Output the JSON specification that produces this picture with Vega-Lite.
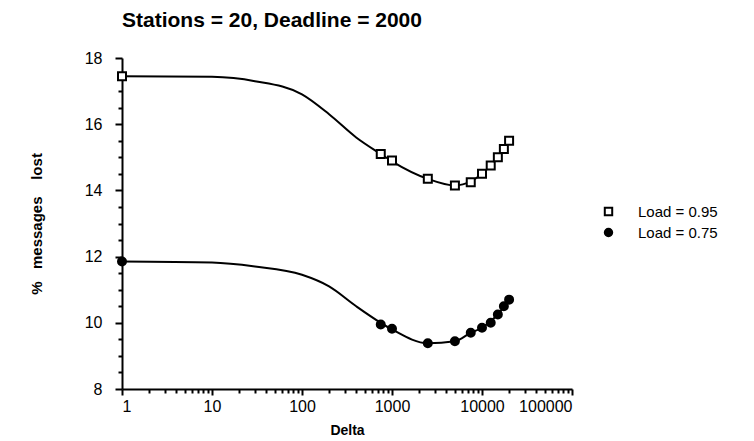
{
  "$schema": "https://vega.github.io/schema/vega-lite/v6.json",
  "width": 450,
  "height": 331,
  "autosize": "none",
  "padding": {"left": 122, "top": 58, "right": 182, "bottom": 52},
  "background": "white",
  "config": {
    "view": {"stroke": null},
    "font": "Liberation Sans",
    "axis": {
      "domainColor": "black", "domainWidth": 2, "tickColor": "black", "tickWidth": 2,
      "labelColor": "black", "labelFont": "Liberation Sans", "labelFontSize": 16,
      "titleColor": "black", "titleFont": "Liberation Sans", "titleFontSize": 15, "titleFontWeight": "bold",
      "grid": false
    },
    "legend": {
      "labelFontSize": 15, "labelColor": "black", "labelFont": "Liberation Sans",
      "symbolSize": 55, "symbolStrokeWidth": 2, "rowPadding": 4, "labelOffset": 22, "padding": 0
    }
  },
  "title": {
    "text": "Stations = 20, Deadline = 2000",
    "anchor": "start", "frame": "group", "fontSize": 21, "fontWeight": "bold",
    "font": "Liberation Sans", "color": "black", "offset": 19
  },
  "datasets": {
    "pts": [
      {"delta": 1, "lost": 17.45, "series": "Load = 0.95"},
      {"delta": 750, "lost": 15.1, "series": "Load = 0.95"},
      {"delta": 1000, "lost": 14.9, "series": "Load = 0.95"},
      {"delta": 2500, "lost": 14.35, "series": "Load = 0.95"},
      {"delta": 5000, "lost": 14.15, "series": "Load = 0.95"},
      {"delta": 7500, "lost": 14.25, "series": "Load = 0.95"},
      {"delta": 10000, "lost": 14.5, "series": "Load = 0.95"},
      {"delta": 12500, "lost": 14.75, "series": "Load = 0.95"},
      {"delta": 15000, "lost": 15.0, "series": "Load = 0.95"},
      {"delta": 17500, "lost": 15.25, "series": "Load = 0.95"},
      {"delta": 20000, "lost": 15.5, "series": "Load = 0.95"},
      {"delta": 1, "lost": 11.85, "series": "Load = 0.75"},
      {"delta": 750, "lost": 9.95, "series": "Load = 0.75"},
      {"delta": 1000, "lost": 9.82, "series": "Load = 0.75"},
      {"delta": 2500, "lost": 9.38, "series": "Load = 0.75"},
      {"delta": 5000, "lost": 9.44, "series": "Load = 0.75"},
      {"delta": 7500, "lost": 9.7, "series": "Load = 0.75"},
      {"delta": 10000, "lost": 9.85, "series": "Load = 0.75"},
      {"delta": 12500, "lost": 10.0, "series": "Load = 0.75"},
      {"delta": 15000, "lost": 10.25, "series": "Load = 0.75"},
      {"delta": 17500, "lost": 10.5, "series": "Load = 0.75"},
      {"delta": 20000, "lost": 10.7, "series": "Load = 0.75"}
    ],
    "curve": [
      {"delta": 1, "lost": 17.45, "series": "Load = 0.95"},
      {"delta": 10, "lost": 17.43, "series": "Load = 0.95"},
      {"delta": 30, "lost": 17.3, "series": "Load = 0.95"},
      {"delta": 100, "lost": 16.9, "series": "Load = 0.95"},
      {"delta": 200, "lost": 16.3, "series": "Load = 0.95"},
      {"delta": 400, "lost": 15.6, "series": "Load = 0.95"},
      {"delta": 750, "lost": 15.1, "series": "Load = 0.95"},
      {"delta": 1000, "lost": 14.88, "series": "Load = 0.95"},
      {"delta": 2500, "lost": 14.35, "series": "Load = 0.95"},
      {"delta": 5000, "lost": 14.15, "series": "Load = 0.95"},
      {"delta": 7500, "lost": 14.27, "series": "Load = 0.95"},
      {"delta": 10000, "lost": 14.5, "series": "Load = 0.95"},
      {"delta": 15000, "lost": 15.0, "series": "Load = 0.95"},
      {"delta": 20000, "lost": 15.5, "series": "Load = 0.95"},
      {"delta": 1, "lost": 11.85, "series": "Load = 0.75"},
      {"delta": 10, "lost": 11.82, "series": "Load = 0.75"},
      {"delta": 30, "lost": 11.7, "series": "Load = 0.75"},
      {"delta": 100, "lost": 11.45, "series": "Load = 0.75"},
      {"delta": 200, "lost": 11.1, "series": "Load = 0.75"},
      {"delta": 400, "lost": 10.5, "series": "Load = 0.75"},
      {"delta": 750, "lost": 10.0, "series": "Load = 0.75"},
      {"delta": 1000, "lost": 9.8, "series": "Load = 0.75"},
      {"delta": 2500, "lost": 9.38, "series": "Load = 0.75"},
      {"delta": 5000, "lost": 9.44, "series": "Load = 0.75"},
      {"delta": 7500, "lost": 9.7, "series": "Load = 0.75"},
      {"delta": 10000, "lost": 9.85, "series": "Load = 0.75"},
      {"delta": 15000, "lost": 10.25, "series": "Load = 0.75"},
      {"delta": 20000, "lost": 10.7, "series": "Load = 0.75"}
    ]
  },
  "resolve": {"axis": {"x": "independent", "y": "independent"}},
  "layer": [
    {
      "data": {"name": "curve"},
      "mark": {"type": "line", "color": "black", "strokeWidth": 2, "interpolate": "monotone"},
      "encoding": {
        "x": {"field": "delta", "type": "quantitative",
              "scale": {"type": "log", "domain": [1, 100000], "nice": false},
              "axis": {"orient": "bottom", "title": "Delta", "titleFontSize": 14, "values": [1, 10, 100, 1000, 10000, 100000], "format": "d",
                       "tickSize": 6, "labelPadding": 3, "titlePadding": 9}},
        "y": {"field": "lost", "type": "quantitative",
              "scale": {"domain": [8, 18], "nice": false, "zero": false},
              "axis": {"orient": "left", "title": "%\u00a0\u00a0\u00a0messages\u00a0\u00a0\u00a0\u00a0lost", "values": [8, 10, 12, 14, 16, 18],
                       "tickSize": 7, "labelPadding": 13, "titlePadding": 40}},
        "detail": {"field": "series"}
      }
    },
    {
      "data": {"name": "pts"},
      "mark": {"type": "point", "filled": true, "strokeWidth": 2, "opacity": 1, "fillOpacity": 1, "strokeOpacity": 1},
      "encoding": {
        "x": {"field": "delta", "type": "quantitative",
              "axis": {"orient": "bottom", "title": null, "labels": false, "domain": false, "tickSize": 4,
                       "values": [2,3,4,5,6,7,8,9,20,30,40,50,60,70,80,90,200,300,400,500,600,700,800,900,2000,3000,4000,5000,6000,7000,8000,9000,20000,30000,40000,50000,60000,70000,80000,90000]}},
        "y": {"field": "lost", "type": "quantitative",
              "axis": {"orient": "left", "title": null, "labels": false, "domain": false, "tickSize": 4,
                       "values": [8.5,9,9.5,10.5,11,11.5,12.5,13,13.5,14.5,15,15.5,16.5,17,17.5]}},
        "shape": {"field": "series", "type": "nominal",
                  "scale": {"domain": ["Load = 0.95", "Load = 0.75"], "range": ["square", "circle"]},
                  "legend": {"title": null, "orient": "none", "legendX": 479, "legendY": 146}},
        "fill": {"field": "series", "type": "nominal",
                 "scale": {"domain": ["Load = 0.95", "Load = 0.75"], "range": ["white", "black"]},
                 "legend": {"title": null, "orient": "none", "legendX": 479, "legendY": 146}},
        "stroke": {"field": "series", "type": "nominal",
                 "scale": {"domain": ["Load = 0.95", "Load = 0.75"], "range": ["black", "black"]},
                 "legend": {"title": null, "orient": "none", "legendX": 479, "legendY": 146}},
        "size": {"value": 64}
      }
    }
  ]
}
